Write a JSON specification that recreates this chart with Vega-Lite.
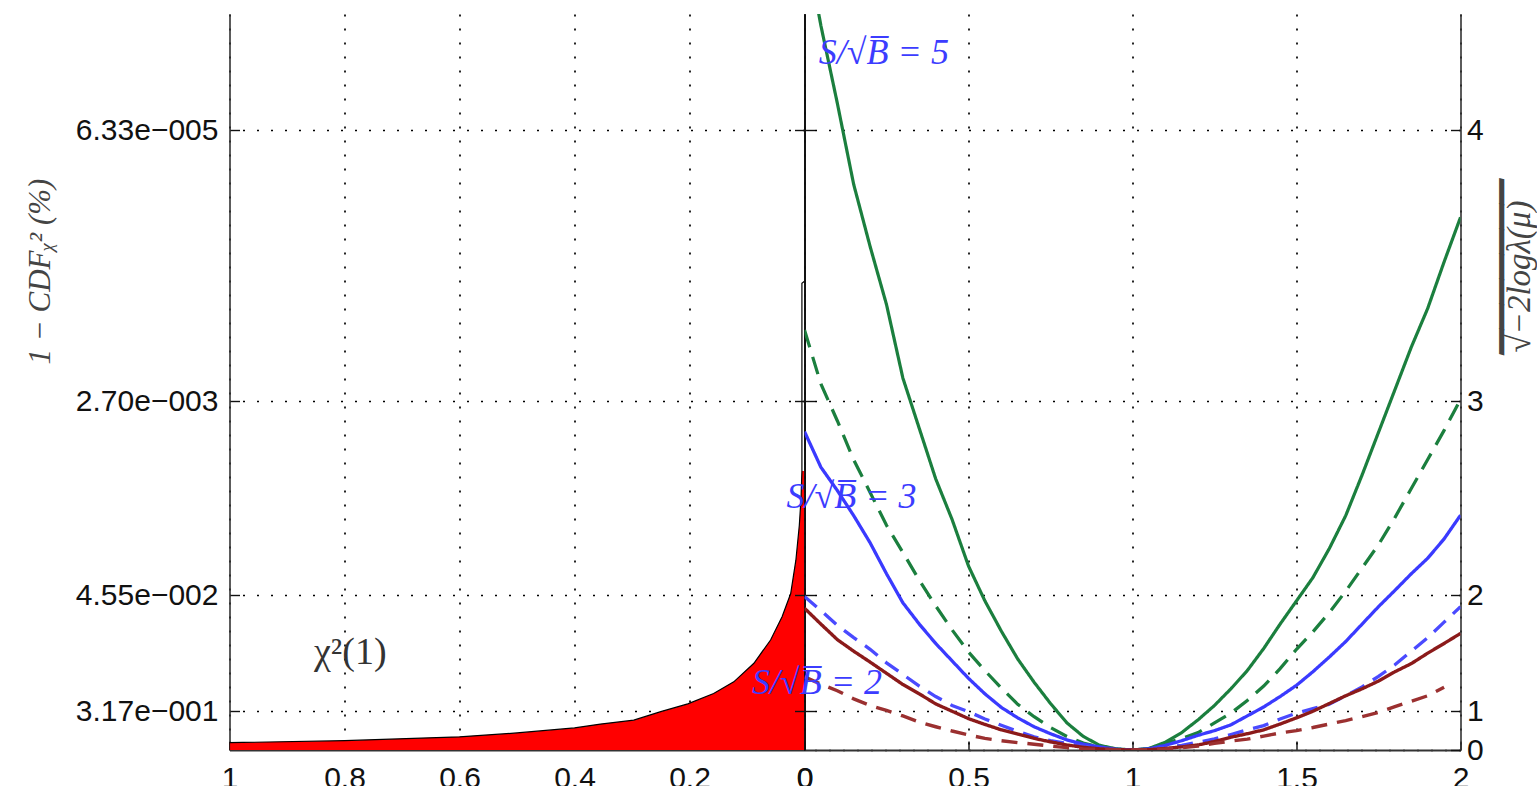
{
  "$schema": "https://vega.github.io/schema/vega-lite/v6.json",
  "autosize": {"type": "none"},
  "padding": {"left": 229.5, "top": 14, "right": 1307.5, "bottom": 772},
  "spacing": 0,
  "bounds": "flush",
  "config": {
    "view": {"stroke": null},
    "axis": {
      "zindex": 1,
      "gridColor": "#000000",
      "gridDash": [2, 12],
      "gridWidth": 1.7,
      "gridOpacity": 1,
      "domainColor": "#333333",
      "domainWidth": 1.6,
      "tickColor": "#111111",
      "tickWidth": 1.4,
      "labelFont": "Liberation Sans",
      "labelFontSize": 30,
      "labelColor": "#111111",
      "labelFlush": false,
      "titleFont": "Liberation Serif",
      "titleFontStyle": "italic",
      "titleFontWeight": "normal",
      "titleFontSize": 31,
      "titleColor": "#444444"
    }
  },
  "datasets": {
    "pdf": [
      {"dens": 1.0, "q": 0.0, "part": "fill"},
      {"dens": 1.0, "q": 0.19, "part": "fill"},
      {"dens": 0.8, "q": 0.24, "part": "fill"},
      {"dens": 0.6, "q": 0.34, "part": "fill"},
      {"dens": 0.5, "q": 0.44, "part": "fill"},
      {"dens": 0.4, "q": 0.57, "part": "fill"},
      {"dens": 0.355, "q": 0.67, "part": "fill"},
      {"dens": 0.297, "q": 0.77, "part": "fill"},
      {"dens": 0.25, "q": 0.99, "part": "fill"},
      {"dens": 0.203, "q": 1.19, "part": "fill"},
      {"dens": 0.158, "q": 1.46, "part": "fill"},
      {"dens": 0.123, "q": 1.76, "part": "fill"},
      {"dens": 0.088, "q": 2.24, "part": "fill"},
      {"dens": 0.059, "q": 2.84, "part": "fill"},
      {"dens": 0.039, "q": 3.44, "part": "fill"},
      {"dens": 0.024, "q": 4.04, "part": "fill"},
      {"dens": 0.015, "q": 4.9, "part": "fill"},
      {"dens": 0.009, "q": 5.8, "part": "fill"},
      {"dens": 0.006, "q": 6.5, "part": "fill"},
      {"dens": 0.0045, "q": 7.2, "part": "fill"},
      {"dens": 0.0045, "q": 12.05, "part": "spike"},
      {"dens": 0.0, "q": 12.1, "part": "spike"}
    ],
    "curves": [
      {"mu": 0.00, "g5s": 21.0, "g5d": 10.84, "b3s": 8.22, "b3d": 3.96, "r2s": 3.66, "r2d": 1.89},
      {"mu": 0.05, "g5s": 18.7, "g5d": 9.45, "b3s": 7.3, "b3d": 3.6, "r2s": 3.25, "r2d": 1.7},
      {"mu": 0.10, "g5s": 16.7, "g5d": 8.5, "b3s": 6.7, "b3d": 3.22, "r2s": 2.85, "r2d": 1.53},
      {"mu": 0.15, "g5s": 14.6, "g5d": 7.49, "b3s": 6.05, "b3d": 2.9, "r2s": 2.55, "r2d": 1.32},
      {"mu": 0.20, "g5s": 13.0, "g5d": 6.65, "b3s": 5.35, "b3d": 2.6, "r2s": 2.27, "r2d": 1.15},
      {"mu": 0.25, "g5s": 11.5, "g5d": 5.8, "b3s": 4.55, "b3d": 2.25, "r2s": 1.98, "r2d": 1.02},
      {"mu": 0.30, "g5s": 9.6, "g5d": 5.1, "b3s": 3.8, "b3d": 1.95, "r2s": 1.69, "r2d": 0.88},
      {"mu": 0.35, "g5s": 8.3, "g5d": 4.38, "b3s": 3.25, "b3d": 1.65, "r2s": 1.45, "r2d": 0.72},
      {"mu": 0.40, "g5s": 7.0, "g5d": 3.72, "b3s": 2.75, "b3d": 1.38, "r2s": 1.19, "r2d": 0.6},
      {"mu": 0.45, "g5s": 5.95, "g5d": 3.1, "b3s": 2.3, "b3d": 1.15, "r2s": 1.0, "r2d": 0.49},
      {"mu": 0.50, "g5s": 4.75, "g5d": 2.53, "b3s": 1.85, "b3d": 0.99, "r2s": 0.81, "r2d": 0.39},
      {"mu": 0.55, "g5s": 3.85, "g5d": 2.05, "b3s": 1.45, "b3d": 0.8, "r2s": 0.66, "r2d": 0.3},
      {"mu": 0.60, "g5s": 3.07, "g5d": 1.6, "b3s": 1.1, "b3d": 0.64, "r2s": 0.52, "r2d": 0.24},
      {"mu": 0.65, "g5s": 2.35, "g5d": 1.18, "b3s": 0.83, "b3d": 0.48, "r2s": 0.41, "r2d": 0.19},
      {"mu": 0.70, "g5s": 1.75, "g5d": 0.86, "b3s": 0.6, "b3d": 0.34, "r2s": 0.3, "r2d": 0.15},
      {"mu": 0.75, "g5s": 1.2, "g5d": 0.58, "b3s": 0.42, "b3d": 0.24, "r2s": 0.21, "r2d": 0.1},
      {"mu": 0.80, "g5s": 0.7, "g5d": 0.35, "b3s": 0.26, "b3d": 0.17, "r2s": 0.13, "r2d": 0.06},
      {"mu": 0.85, "g5s": 0.35, "g5d": 0.18, "b3s": 0.15, "b3d": 0.1, "r2s": 0.07, "r2d": 0.03},
      {"mu": 0.90, "g5s": 0.12, "g5d": 0.07, "b3s": 0.08, "b3d": 0.05, "r2s": 0.03, "r2d": 0.015},
      {"mu": 0.95, "g5s": 0.03, "g5d": 0.02, "b3s": 0.02, "b3d": 0.01, "r2s": 0.01, "r2d": 0.005},
      {"mu": 1.00, "g5s": 0, "g5d": 0, "b3s": 0, "b3d": 0, "r2s": 0, "r2d": 0},
      {"mu": 1.05, "g5s": 0.04, "g5d": 0.03, "b3s": 0.03, "b3d": 0.02, "r2s": 0.01, "r2d": 0.01},
      {"mu": 1.10, "g5s": 0.2, "g5d": 0.17, "b3s": 0.12, "b3d": 0.06, "r2s": 0.04, "r2d": 0.03},
      {"mu": 1.15, "g5s": 0.45, "g5d": 0.3, "b3s": 0.24, "b3d": 0.12, "r2s": 0.08, "r2d": 0.06},
      {"mu": 1.20, "g5s": 0.78, "g5d": 0.45, "b3s": 0.38, "b3d": 0.2, "r2s": 0.13, "r2d": 0.1},
      {"mu": 1.25, "g5s": 1.15, "g5d": 0.7, "b3s": 0.5, "b3d": 0.29, "r2s": 0.22, "r2d": 0.17},
      {"mu": 1.30, "g5s": 1.58, "g5d": 0.95, "b3s": 0.65, "b3d": 0.4, "r2s": 0.33, "r2d": 0.23},
      {"mu": 1.35, "g5s": 2.05, "g5d": 1.28, "b3s": 0.88, "b3d": 0.52, "r2s": 0.42, "r2d": 0.28},
      {"mu": 1.40, "g5s": 2.62, "g5d": 1.65, "b3s": 1.11, "b3d": 0.63, "r2s": 0.52, "r2d": 0.36},
      {"mu": 1.45, "g5s": 3.25, "g5d": 2.1, "b3s": 1.38, "b3d": 0.8, "r2s": 0.67, "r2d": 0.44},
      {"mu": 1.50, "g5s": 3.85, "g5d": 2.6, "b3s": 1.67, "b3d": 0.95, "r2s": 0.83, "r2d": 0.5},
      {"mu": 1.55, "g5s": 4.45, "g5d": 3.05, "b3s": 2.02, "b3d": 1.07, "r2s": 1.0, "r2d": 0.58},
      {"mu": 1.60, "g5s": 5.2, "g5d": 3.55, "b3s": 2.4, "b3d": 1.18, "r2s": 1.2, "r2d": 0.67},
      {"mu": 1.65, "g5s": 6.05, "g5d": 4.1, "b3s": 2.8, "b3d": 1.4, "r2s": 1.4, "r2d": 0.76},
      {"mu": 1.70, "g5s": 7.1, "g5d": 4.7, "b3s": 3.25, "b3d": 1.63, "r2s": 1.58, "r2d": 0.86},
      {"mu": 1.75, "g5s": 8.2, "g5d": 5.3, "b3s": 3.7, "b3d": 1.9, "r2s": 1.78, "r2d": 0.97},
      {"mu": 1.80, "g5s": 9.3, "g5d": 6.0, "b3s": 4.12, "b3d": 2.2, "r2s": 2.02, "r2d": 1.12},
      {"mu": 1.85, "g5s": 10.4, "g5d": 6.75, "b3s": 4.55, "b3d": 2.55, "r2s": 2.23, "r2d": 1.26},
      {"mu": 1.90, "g5s": 11.4, "g5d": 7.5, "b3s": 4.95, "b3d": 2.9, "r2s": 2.5, "r2d": 1.4},
      {"mu": 1.95, "g5s": 12.6, "g5d": 8.25, "b3s": 5.45, "b3d": 3.3, "r2s": 2.75, "r2d": 1.62},
      {"mu": 2.00, "g5s": 13.75, "g5d": 9.05, "b3s": 6.06, "b3d": 3.7, "r2s": 3.01, "r2d": null}
    ],
    "labels": [
      {"mu": 0.242, "q": 18.0, "label": "S/\u221aB\u0305 = 5"},
      {"mu": 0.143, "q": 6.53, "label": "S/\u221aB\u0305 = 3"},
      {"mu": 0.038, "q": 1.73, "label": "S/\u221aB\u0305 = 2"}
    ],
    "chi": [
      {"dens": 0.79, "q": 2.5, "label": "\u03c7\u00b2(1)"}
    ]
  },
  "hconcat": [
    {
      "width": 575,
      "height": 736,
      "encoding": {
        "x": {
          "field": "dens",
          "type": "quantitative",
          "scale": {"domain": [0, 1], "reverse": true, "nice": false},
          "axis": {
            "orient": "bottom",
            "values": [1, 0.8, 0.6, 0.4, 0.2, 0],
            "format": "~g",
            "grid": true,
            "tickSize": -9,
            "labelPadding": 22,
            "domainWidth": 2,
            "title": null
          }
        }
      },
      "layer": [
        {
          "data": {"name": "pdf"},
          "transform": [{"filter": "datum.part == 'fill'"}],
          "mark": {"type": "area", "orient": "horizontal", "color": "#ff0000", "clip": true},
          "encoding": {
            "y": {
              "field": "q",
              "type": "quantitative",
              "scale": {"domain": [0, 19], "nice": false},
              "axis": {
                "orient": "left",
                "values": [1, 4, 9, 16],
                "labelExpr": "datum.value == 16 ? '6.33e\u2212005' : datum.value == 9 ? '2.70e\u2212003' : datum.value == 4 ? '4.55e\u2212002' : '3.17e\u2212001'",
                "grid": true,
                "tickSize": -10,
                "labelPadding": 21.5,
                "title": "1 \u2212 CDF\u1d6a\u00b2 (%)",
                "titleX": -189.5,
                "titleY": 257,
                "titleAngle": 270,
                "titleAlign": "center",
                "titleBaseline": "middle"
              }
            }
          }
        },
        {
          "data": {"name": "pdf"},
          "mark": {"type": "line", "color": "#000000", "strokeWidth": 1.2, "clip": true},
          "encoding": {
            "y": {
              "field": "q",
              "type": "quantitative",
              "scale": {"domain": [0, 19], "nice": false},
              "axis": {
                "orient": "right",
                "values": [1, 4, 9, 16],
                "labels": false,
                "grid": false,
                "tickSize": 10,
                "domainColor": "#111111",
                "domainWidth": 1.8,
                "title": null
              }
            },
            "order": {"field": "q", "type": "quantitative"}
          }
        },
        {
          "data": {"name": "chi"},
          "mark": {"type": "text", "font": "Liberation Serif", "fontSize": 38, "color": "#333333", "align": "center", "baseline": "middle"},
          "encoding": {
            "y": {"field": "q", "type": "quantitative", "scale": {"domain": [0, 19], "nice": false}, "axis": null},
            "text": {"field": "label"}
          }
        }
      ],
      "resolve": {"axis": {"y": "independent"}}
    },
    {
      "width": 656,
      "height": 736,
      "encoding": {
        "x": {
          "field": "mu",
          "type": "quantitative",
          "scale": {"domain": [0, 2], "nice": false},
          "axis": {
            "orient": "bottom",
            "values": [0, 0.5, 1, 1.5, 2],
            "format": "~g",
            "grid": true,
            "tickSize": -9,
            "labelPadding": 22,
            "domainWidth": 2,
            "title": null
          }
        }
      },
      "layer": [
        {
          "data": {"name": "curves"},
          "transform": [{"fold": ["g5s", "g5d", "b3s", "b3d", "r2s", "r2d"], "as": ["series", "q"]}],
          "mark": {"type": "line", "clip": true},
          "encoding": {
            "y": {
              "field": "q",
              "type": "quantitative",
              "scale": {"domain": [0, 19], "nice": false},
              "axis": {
                "orient": "right",
                "values": [0, 1, 4, 9, 16],
                "labelExpr": "'' + sqrt(datum.value)",
                "grid": true,
                "tickSize": -10,
                "labelPadding": 16,
                "title": ["\u2002\u2581\u2581\u2581\u2581\u2581\u2581\u2581", "\u221a\u22122log\u03bb(\u03bc)"],
                "titleFontSize": 33,
                "titleLineHeight": 34,
                "titleX": 25,
                "titleY": 338,
                "titleAngle": 270,
                "titleAlign": "left",
                "titleBaseline": "middle"
              }
            },
            "color": {
              "field": "series",
              "type": "nominal",
              "scale": {"domain": ["g5s", "g5d", "b3s", "b3d", "r2s", "r2d"], "range": ["#1b7f3e", "#1b7f3e", "#3a3aff", "#4a4aff", "#8b1a1a", "#9b3030"]},
              "legend": null
            },
            "strokeDash": {
              "field": "series",
              "type": "nominal",
              "scale": {"domain": ["g5s", "g5d", "b3s", "b3d", "r2s", "r2d"], "range": [[1, 0], [18, 10], [1, 0], [16, 10], [1, 0], [16, 10]]},
              "legend": null
            },
            "strokeWidth": {
              "field": "series",
              "type": "ordinal",
              "scale": {"domain": ["g5s", "g5d", "b3s", "b3d", "r2s", "r2d"], "range": [3.2, 3.4, 1.2, 1.2, 1.2, 1.2]},
              "legend": null
            }
          }
        },
        {
          "data": {"name": "labels"},
          "mark": {"type": "text", "font": "Liberation Serif", "fontStyle": "italic", "fontSize": 36, "color": "#3c3cff", "align": "center", "baseline": "middle"},
          "encoding": {
            "y": {
              "field": "q",
              "type": "quantitative",
              "scale": {"domain": [0, 19], "nice": false},
              "axis": {
                "orient": "left",
                "values": [1, 4, 9, 16],
                "labels": false,
                "grid": false,
                "tickSize": 10,
                "domainColor": "#111111",
                "domainWidth": 1.8,
                "title": null
              }
            },
            "text": {"field": "label"}
          }
        }
      ],
      "resolve": {"axis": {"y": "independent"}}
    }
  ]
}
